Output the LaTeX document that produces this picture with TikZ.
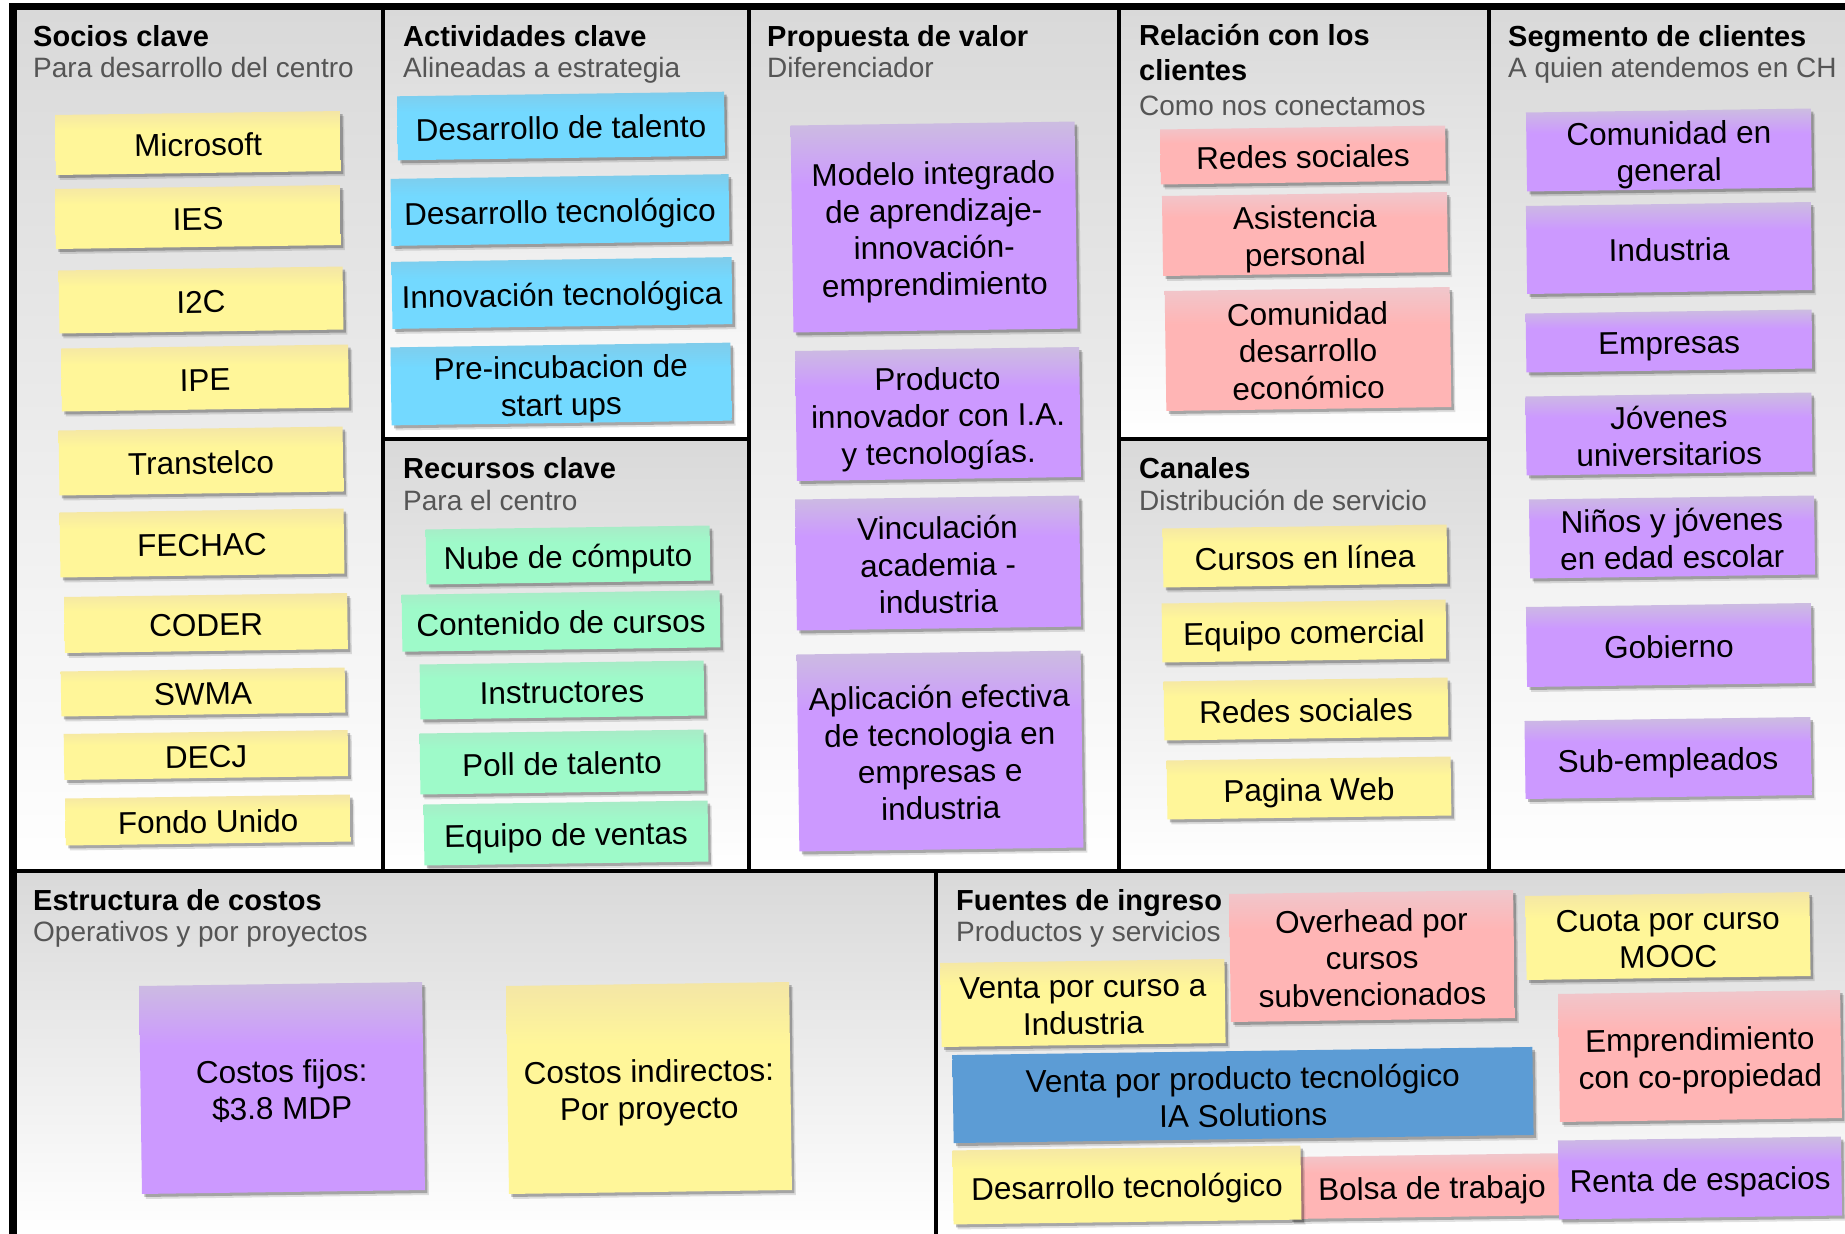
\documentclass[tikz,border=0pt]{standalone}
\usepackage{fontspec}
\setmainfont{Liberation Sans}
\usetikzlibrary{shadows}

\definecolor{cellgray}{RGB}{217,217,217}
\definecolor{subgray}{RGB}{85,85,85}

\pgfdeclareverticalshading{shyellow}{100bp}{rgb(0bp)=(1,0.965,0.6); rgb(60bp)=(1,0.965,0.6); rgb(75bp)=(0.955,0.9,0.65); rgb(100bp)=(0.955,0.9,0.65)}
\pgfdeclareverticalshading{shblue}{100bp}{rgb(0bp)=(0.45,0.85,1); rgb(60bp)=(0.45,0.85,1); rgb(75bp)=(0.5,0.8,0.92); rgb(100bp)=(0.5,0.8,0.92)}
\pgfdeclareverticalshading{shgreen}{100bp}{rgb(0bp)=(0.62,0.98,0.79); rgb(60bp)=(0.62,0.98,0.79); rgb(75bp)=(0.66,0.92,0.78); rgb(100bp)=(0.66,0.92,0.78)}
\pgfdeclareverticalshading{shpurple}{100bp}{rgb(0bp)=(0.8,0.6,1); rgb(60bp)=(0.8,0.6,1); rgb(75bp)=(0.8,0.74,0.88); rgb(100bp)=(0.8,0.74,0.88)}
\pgfdeclareverticalshading{shpink}{100bp}{rgb(0bp)=(1,0.71,0.71); rgb(60bp)=(1,0.71,0.71); rgb(75bp)=(0.94,0.78,0.8); rgb(100bp)=(0.94,0.78,0.8)}
\pgfdeclareverticalshading{shdblue}{100bp}{rgb(0bp)=(0.36,0.61,0.835); rgb(100bp)=(0.36,0.61,0.835)}

\newcommand\sk{\rule[-7pt]{0pt}{40pt}}

\tikzset{
  sticky/.style={shade, shading=#1, inner sep=0pt, align=center, rotate=0.8,
    font=\fontsize{31.5}{37}\selectfont,
    drop shadow={shadow xshift=4pt, shadow yshift=-5pt, opacity=0.12, fill=black},
    drop shadow={shadow xshift=2.5pt, shadow yshift=-3pt, opacity=0.25, fill=black},
    execute at end node=\sk},
  ttlstyle/.style={inner sep=0pt, anchor=base west, font=\bfseries\fontsize{29}{35}\selectfont},
  substyle/.style={inner sep=0pt, anchor=base west, text=subgray, font=\fontsize{28}{34}\selectfont},
  cellbg/.style={top color=cellgray, bottom color=white},
  grid/.style={line width=4pt, black},
}

\newcommand\stk[7]{\node[sticky=#2, minimum width=#5pt, minimum height=#6pt] (#1) at (#3,#4) {\sk#7};}
\newcommand\ttl[4]{\node[ttlstyle] (#1) at (#2,#3) {#4};}
\newcommand\sbt[4]{\node[substyle] (#1) at (#2,#3) {#4};}

\begin{document}
\begin{tikzpicture}[x=1pt,y=-1pt]
\useasboundingbox (0,0) rectangle (1845,1234);
\fill[white] (0,0) rectangle (1845,1234);

% cell backgrounds
\shade[cellbg] (17,10) rectangle (383,871);
\shade[cellbg] (383,10) rectangle (748,439);
\shade[cellbg] (383,439) rectangle (748,871);
\shade[cellbg] (748,10) rectangle (1118,871);
\shade[cellbg] (1118,10) rectangle (1489,439);
\shade[cellbg] (1118,439) rectangle (1489,871);
\shade[cellbg] (1489,10) rectangle (1845,871);
\shade[cellbg] (17,871) rectangle (936,1234);
\shade[cellbg] (936,871) rectangle (1845,1234);

% grid lines
\draw[line width=8pt] (13,3) -- (13,1234);
\draw[line width=7pt] (9,6.5) -- (1845,6.5);
\draw[grid] (383,10) -- (383,871);
\draw[grid] (748.5,10) -- (748.5,871);
\draw[grid] (1118.5,10) -- (1118.5,871);
\draw[grid] (1489,10) -- (1489,871);
\draw[grid] (383,439) -- (748.5,439);
\draw[grid] (1118.5,439) -- (1489,439);
\draw[line width=4.5pt] (17,871) -- (1845,871);
\draw[grid] (936,871) -- (936,1234);

% titles
\ttl{tsoc}{33}{46}{Socios clave}
\sbt{ssoc}{33}{77}{Para desarrollo del centro}
\ttl{tact}{403}{46}{Actividades clave}
\sbt{sact}{403}{77}{Alineadas a estrategia}
\ttl{tpro}{767}{46}{Propuesta de valor}
\sbt{spro}{767}{77}{Diferenciador}
\ttl{trel}{1139}{45}{Relación con los}
\ttl{trelb}{1139}{80}{clientes}
\sbt{srel}{1139}{115}{Como nos conectamos}
\ttl{tseg}{1508}{46}{Segmento de clientes}
\sbt{sseg}{1508}{77}{A quien atendemos en CH}
\ttl{trec}{403}{478}{Recursos clave}
\sbt{srec}{403}{510}{Para el centro}
\ttl{tcan}{1139}{478}{Canales}
\sbt{scan}{1139}{510}{Distribución de servicio}
\ttl{test}{33}{910}{Estructura de costos}
\sbt{sest}{33}{941}{Operativos y por proyectos}
\ttl{tfue}{956}{910}{Fuentes de ingreso}
\sbt{sfue}{956}{941}{Productos y servicios}

% Socios clave
\stk{mic}{shyellow}{198}{143}{285}{60}{Microsoft}
\stk{ies}{shyellow}{198}{217}{285}{60}{IES}
\stk{itc}{shyellow}{201}{300}{284}{63}{I2C}
\stk{ipe}{shyellow}{205}{378}{287}{63}{IPE}
\stk{tra}{shyellow}{201}{461}{284}{65}{Transtelco}
\stk{fec}{shyellow}{202}{543}{284}{65}{FECHAC}
\stk{cod}{shyellow}{206}{623}{283}{56}{CODER}
\stk{swm}{shyellow}{203}{692}{284}{45}{SWMA}
\stk{dec}{shyellow}{206}{755}{284}{46}{DECJ}
\stk{fon}{shyellow}{208}{820}{285}{47}{Fondo Unido}

% Actividades clave
\stk{dta}{shblue}{561}{126}{327}{64}{Desarrollo de talento}
\stk{dte}{shblue}{560}{210}{338}{67}{Desarrollo tecnológico}
\stk{inn}{shblue}{562}{293}{340}{67}{Innovación tecnológica}
\stk{pre}{shblue}{561}{384}{340}{78}{Pre-incubacion de\\start ups}

% Recursos clave
\stk{nub}{shgreen}{568}{555}{284}{55}{Nube de cómputo}
\stk{con}{shgreen}{561}{621}{318}{57}{Contenido de cursos}
\stk{ins}{shgreen}{562}{690}{284}{55}{Instructores}
\stk{pol}{shgreen}{562}{762}{284}{61}{Poll de talento}
\stk{equ}{shgreen}{566}{833}{284}{61}{Equipo de ventas}

% Propuesta de valor
\stk{mod}{shpurple}{934}{227}{284}{207}{Modelo integrado\\de aprendizaje-\\innovación-\\emprendimiento}
\stk{prod}{shpurple}{938}{414}{284}{130}{Producto\\innovador con I.A.\\y tecnologías.}
\stk{vin}{shpurple}{938}{563}{284}{131}{Vinculación\\academia -\\industria}
\stk{apl}{shpurple}{940}{751}{284}{197}{Aplicación efectiva\\de tecnologia en\\empresas e\\industria}

% Relacion con los clientes
\stk{rrs}{shpink}{1303}{155}{285}{55}{Redes sociales}
\stk{asi}{shpink}{1305}{234}{285}{80}{Asistencia\\personal}
\stk{cde}{shpink}{1308}{349}{285}{120}{Comunidad\\desarrollo\\económico}

% Canales
\stk{cur}{shyellow}{1305}{556}{284}{59}{Cursos en línea}
\stk{eco}{shyellow}{1304}{631}{284}{59}{Equipo comercial}
\stk{crs}{shyellow}{1306}{709}{284}{59}{Redes sociales}
\stk{pag}{shyellow}{1309}{788}{284}{59}{Pagina Web}

% Segmento de clientes
\stk{cg}{shpurple}{1669}{150}{285}{79}{Comunidad en\\general}
\stk{ind}{shpurple}{1669}{248}{285}{88}{Industria}
\stk{emp}{shpurple}{1669}{341}{286}{59}{Empresas}
\stk{jov}{shpurple}{1669}{434}{286}{79}{Jóvenes\\universitarios}
\stk{nin}{shpurple}{1672}{537}{285}{79}{Niños y jóvenes\\en edad escolar}
\stk{gob}{shpurple}{1669}{645}{285}{80}{Gobierno}
\stk{sub}{shpurple}{1668}{758}{286}{78}{Sub-empleados}

% Estructura de costos
\stk{cfi}{shpurple}{282}{1088}{283}{208}{Costos fijos:\\\$3.8 MDP}
\stk{cin}{shyellow}{649}{1088}{283}{208}{Costos indirectos:\\Por proyecto}

% Fuentes de ingreso
\stk{bol}{shpink}{1432}{1186}{285}{62}{Bolsa de trabajo}
\stk{ove}{shpink}{1372}{956}{284}{128}{Overhead por\\cursos\\subvencionados}
\stk{cuo}{shyellow}{1668}{936}{284}{84}{Cuota por curso\\MOOC}
\stk{vcu}{shyellow}{1083}{1003}{284}{84}{Venta por curso a\\Industria}
\stk{empr}{shpink}{1700}{1056}{282}{128}{Emprendimiento\\con co-propiedad}
\stk{vpt}{shdblue}{1243}{1095}{580}{88}{Venta por producto tecnológico\\IA Solutions}
\stk{des}{shyellow}{1127}{1185}{348}{74}{Desarrollo tecnológico}
\stk{ren}{shpurple}{1700}{1178}{283}{79}{Renta de espacios}
\end{tikzpicture}
\end{document}
